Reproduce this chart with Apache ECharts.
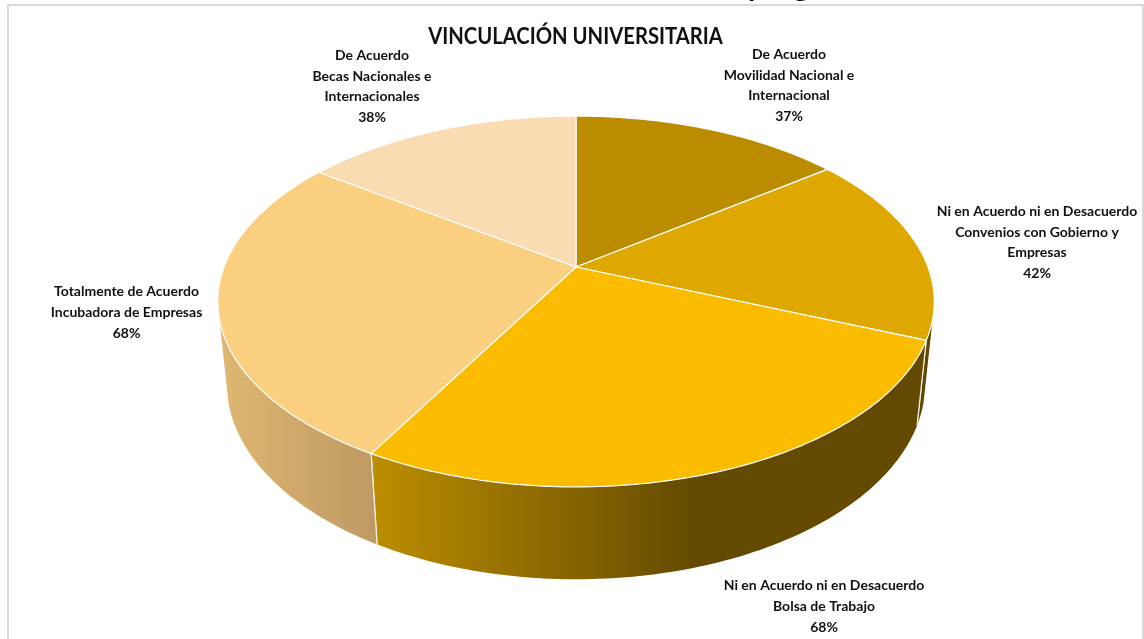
<!DOCTYPE html>
<html>
<head>
<meta charset="utf-8">
<style>
  html, body { margin: 0; padding: 0; background: #fff; overflow: hidden; }
  #chart { position: absolute; left: 0; top: 0; width: 1144px; height: 639px; }
</style>
<script src="https://cdn.jsdelivr.net/npm/echarts@6/dist/echarts.min.js"></script>
</head>
<body>
<div id="chart"></div>
<script>
  const categories = [
    'De Acuerdo\nMovilidad Nacional e\nInternacional',
    'Ni en Acuerdo ni en Desacuerdo\nConvenios con Gobierno y\nEmpresas',
    'Ni en Acuerdo ni en Desacuerdo\nBolsa de Trabajo',
    'Totalmente de Acuerdo\nIncubadora de Empresas',
    'De Acuerdo\nBecas Nacionales e\nInternacionales',
  ];
  const values = [37, 42, 68, 68, 38];

  const topColors = ['#BC8C00', '#DFA800', '#FBBC00', '#FACF80', '#FADCB3'];
  const labelPos = [[789, 85.5], [1037, 242.5], [824, 606.5], [126.5, 312.5], [372, 86.5]];

  // perspective of the disc, fitted on the reference
  const cx = 576, cy = 267, R = 352, S = 179, H = 83, p = 0.186, q = 0.025;
  const project = (angle, bottom) => {
    const u = Math.sin(angle), v = -Math.cos(angle);
    const w = 1 - p * v + (bottom ? q : 0);
    return [cx + (R * u) / w, cy + (S * v + (bottom ? H : 0)) / w];
  };
  const arc = (a0, a1, bottom) => {
    const pts = [];
    const n = Math.max(2, Math.ceil((a1 - a0) * 60));
    for (let i = 0; i <= n; i++) pts.push(project(a0 + ((a1 - a0) * i) / n, bottom));
    return pts;
  };

  const deg = Math.PI / 180;
  const wallFrom = 106 * deg, wallTo = 254 * deg; // part of the side that faces the viewer
  const total = values.reduce((a, b) => a + b, 0);
  const startAngle = (idx) => (values.slice(0, idx).reduce((a, b) => a + b, 0) / total) * Math.PI * 2;

  const wallFill = (idx) => {
    if (idx === 3) {
      return new echarts.graphic.LinearGradient(218, 0, 372, 0, [
        { offset: 0, color: '#E0B873' },
        { offset: 1, color: '#BF9A62' },
      ], true);
    }
    if (idx === 2) {
      return new echarts.graphic.LinearGradient(372, 0, 695, 0, [
        { offset: 0, color: '#BC8E00' },
        { offset: 1, color: '#644A00' },
      ], true);
    }
    return '#5F4800';
  };

  const renderItem = (params, api) => {
    const idx = params.dataIndex;
    const a0 = startAngle(idx);
    const a1 = a0 + (api.value(0) / total) * Math.PI * 2;
    const children = [];
    const w0 = Math.max(a0, wallFrom), w1 = Math.min(a1, wallTo);
    if (w1 > w0) {
      children.push({
        type: 'polygon',
        shape: { points: arc(w0, w1, false).concat(arc(w0, w1, true).reverse()) },
        style: { fill: wallFill(idx) },
      });
      // white edge where two slices meet on the side
      [a0, a1].forEach((a) => {
        if (a >= wallFrom && a <= wallTo) {
          const t = project(a, false), b = project(a, true);
          children.push({
            type: 'line',
            shape: { x1: t[0], y1: t[1], x2: b[0], y2: b[1] },
            style: { stroke: '#F4F0E6', lineWidth: 1.2 },
          });
        }
      });
    }
    children.push({
      type: 'polygon',
      shape: { points: [[cx, cy]].concat(arc(a0, a1, false)) },
      style: { fill: topColors[idx], stroke: '#FFFFFF', lineWidth: 1.2, lineJoin: 'round' },
    });
    children.push({
      type: 'text',
      x: labelPos[idx][0],
      y: labelPos[idx][1],
      z2: 10,
      style: {
        text: categories[idx] + '\n' + api.value(0) + '%',
        fill: '#111',
        font: '700 14px Lato',
        lineHeight: 20.7,
        align: 'center',
        verticalAlign: 'middle',
      },
    });
    return { type: 'group', children };
  };

  const myChart = echarts.init(document.getElementById('chart'), null, { renderer: 'canvas' });
  myChart.setOption({
    animation: false,
    backgroundColor: '#fff',
    graphic: [
      {
        type: 'rect',
        shape: { x: 8, y: 5, width: 1135, height: 650 },
        style: { fill: 'none', stroke: '#D9D9D9', lineWidth: 2 },
        silent: true,
      },
      {
        // main title, Lato is wider than the original face
        type: 'text',
        x: 575.5,
        y: 37,
        scaleX: 0.88,
        style: {
          text: 'VINCULACIÓN UNIVERSITARIA',
          fill: '#111',
          font: '700 23px Lato',
          align: 'center',
          verticalAlign: 'middle',
        },
      },
      {
        // heading of the page above, only the descenders stay in view
        type: 'text',
        x: 748,
        y: -14,
        style: {
          text: 'programa',
          fill: '#000',
          font: '700 30px Lato',
          align: 'left',
          verticalAlign: 'middle',
        },
      },
    ],
    series: [
      {
        type: 'custom',
        coordinateSystem: 'none',
        data: values.map((v, i) => ({ name: categories[i], value: [v] })),
        renderItem,
      },
    ],
  });
</script>
</body>
</html>
